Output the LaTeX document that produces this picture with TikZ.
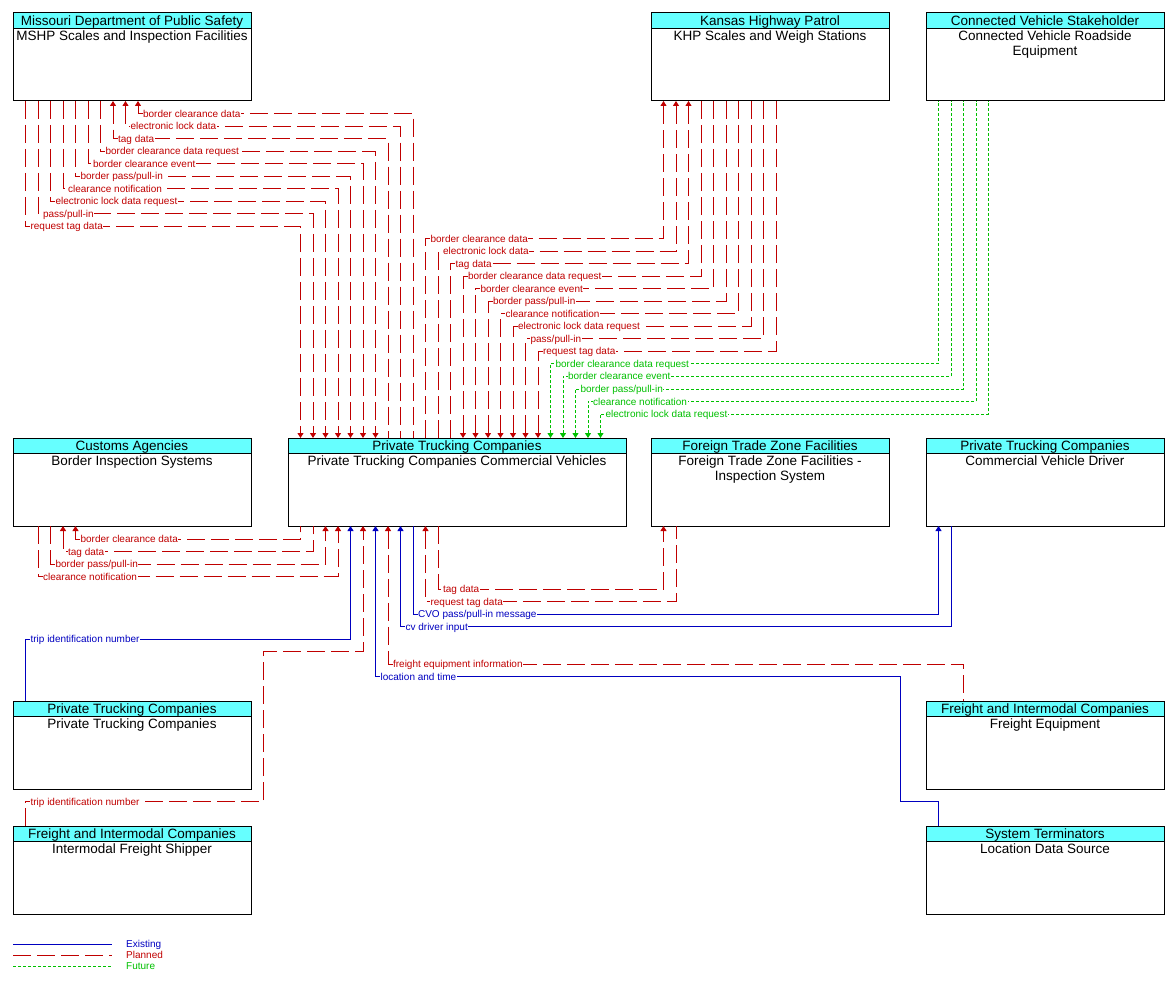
\documentclass[tikz,border=0pt]{standalone}
\usepackage{fontspec}
\setmainfont{Liberation Sans}
\usetikzlibrary{arrows.meta}
\definecolor{cred}{RGB}{192,0,0}
\definecolor{cblue}{RGB}{0,0,192}
\definecolor{cgreen}{RGB}{0,192,0}
\definecolor{hdr}{RGB}{102,255,255}
\newcommand\bxf{\fontsize{13.5}{15}\selectfont}
\newcommand\lbf{\fontsize{10}{11}\selectfont}
\newcommand\archbox[6]{%
  \node[box, minimum width=#4] (#1) at (#2,#3) {};
  \path[draw=black, line width=1pt, fill=hdr] (#1.north west) rectangle ([yshift=-15.5pt]#1.north east);
  \node[hdrtext] at ([yshift=-12.5pt]#1.north) {#5};
  \node[bodytext] at ([yshift=-18pt]#1.north) {#6};
}
\begin{document}
\begin{tikzpicture}[x=1pt,y=-1pt,
  >={Triangle[width=6pt,length=5pt]},
  box/.style={draw=black, line width=1pt, fill=white, inner sep=0pt, outer sep=0pt, anchor=north west, minimum height=88},
  hdrtext/.style={anchor=base, font=\bxf, inner sep=0pt},
  bodytext/.style={anchor=north, font=\bxf, inner sep=0pt, align=center},
  ex/.style={draw=cblue, line width=1pt},
  pl/.style={draw=cred, line width=1pt, dash pattern=on 18pt off 6pt},
  fu/.style={draw=cgreen, line width=1pt, dash pattern=on 3pt off 2pt},
  lab/.style={font=\lbf, fill=white, inner sep=0.6pt, anchor=base west, xshift=4pt, yshift=-3.5pt, pos=0.5},
  labr/.style={lab, text=cred},
  labb/.style={lab, text=cblue},
  labg/.style={lab, text=cgreen},
  leg/.style={font=\lbf, inner sep=0pt, anchor=base west, yshift=-3.5pt}
]
\useasboundingbox (0,0) rectangle (1173,984);

% boxes
\archbox{mshp}{13}{13}{238}{Missouri Department of Public Safety}{MSHP Scales and Inspection Facilities}
\archbox{khp}{651}{13}{238}{Kansas Highway Patrol}{KHP Scales and Weigh Stations}
\archbox{cvs}{926}{13}{238}{Connected Vehicle Stakeholder}{Connected Vehicle Roadside\\Equipment}
\archbox{cus}{13}{438}{238}{Customs Agencies}{Border Inspection Systems}
\archbox{ptccv}{288}{438}{338}{Private Trucking Companies}{Private Trucking Companies Commercial Vehicles}
\archbox{ftz}{651}{438}{238}{Foreign Trade Zone Facilities}{Foreign Trade Zone Facilities -\\Inspection System}
\archbox{drv}{926}{438}{238}{Private Trucking Companies}{Commercial Vehicle Driver}
\archbox{ptc}{13}{701}{238}{Private Trucking Companies}{Private Trucking Companies}
\archbox{fe}{926}{701}{238}{Freight and Intermodal Companies}{Freight Equipment}
\archbox{ifs}{13}{826}{238}{Freight and Intermodal Companies}{Intermodal Freight Shipper}
\archbox{lds}{926}{826}{238}{System Terminators}{Location Data Source}

% MSHP <-> PTC CV
\draw[pl,<-] ([xshift=125]mshp.south west) |- node[labr]{border clearance data} (413,114) -- ([xshift=125]ptccv.north west);
\draw[pl,<-] ([xshift=112.5]mshp.south west) |- node[labr]{electronic lock data} (400.5,126.5) -- ([xshift=112.5]ptccv.north west);
\draw[pl,<-] ([xshift=100]mshp.south west) |- node[labr]{tag data} (388,139) -- ([xshift=100]ptccv.north west);
\draw[pl,->] ([xshift=87.5]mshp.south west) |- node[labr]{border clearance data request} (375.5,151.5) -- ([xshift=87.5]ptccv.north west);
\draw[pl,->] ([xshift=75]mshp.south west) |- node[labr]{border clearance event} (363,164) -- ([xshift=75]ptccv.north west);
\draw[pl,->] ([xshift=62.5]mshp.south west) |- node[labr]{border pass/pull-in} (350.5,176.5) -- ([xshift=62.5]ptccv.north west);
\draw[pl,->] ([xshift=50]mshp.south west) |- node[labr]{clearance notification} (338,189) -- ([xshift=50]ptccv.north west);
\draw[pl,->] ([xshift=37.5]mshp.south west) |- node[labr]{electronic lock data request} (325.5,201.5) -- ([xshift=37.5]ptccv.north west);
\draw[pl,->] ([xshift=25]mshp.south west) |- node[labr]{pass/pull-in} (313,214) -- ([xshift=25]ptccv.north west);
\draw[pl,->] ([xshift=12.5]mshp.south west) |- node[labr]{request tag data} (300.5,226.5) -- ([xshift=12.5]ptccv.north west);

% PTC CV <-> KHP
\draw[pl,->] ([xshift=137.5]ptccv.north west) |- node[labr]{border clearance data} (663.5,239) -- ([xshift=12.5]khp.south west);
\draw[pl,->] ([xshift=150]ptccv.north west) |- node[labr]{electronic lock data} (676,251.5) -- ([xshift=25]khp.south west);
\draw[pl,->] ([xshift=162.5]ptccv.north west) |- node[labr]{tag data} (688.5,264) -- ([xshift=37.5]khp.south west);
\draw[pl,<-] ([xshift=175]ptccv.north west) |- node[labr]{border clearance data request} (701,276.5) -- ([xshift=50]khp.south west);
\draw[pl,<-] ([xshift=187.5]ptccv.north west) |- node[labr]{border clearance event} (713.5,289) -- ([xshift=62.5]khp.south west);
\draw[pl,<-] ([xshift=200]ptccv.north west) |- node[labr]{border pass/pull-in} (726,301.5) -- ([xshift=75]khp.south west);
\draw[pl,<-] ([xshift=212.5]ptccv.north west) |- node[labr]{clearance notification} (738.5,314) -- ([xshift=87.5]khp.south west);
\draw[pl,<-] ([xshift=225]ptccv.north west) |- node[labr]{electronic lock data request} (751,326.5) -- ([xshift=100]khp.south west);
\draw[pl,<-] ([xshift=237.5]ptccv.north west) |- node[labr]{pass/pull-in} (763.5,339) -- ([xshift=112.5]khp.south west);
\draw[pl,<-] ([xshift=250]ptccv.north west) |- node[labr]{request tag data} (776,351.5) -- ([xshift=125]khp.south west);

% PTC CV <- CV roadside
\draw[fu,<-] ([xshift=262.5]ptccv.north west) |- node[labg]{border clearance data request} (938.5,364) -- ([xshift=12.5]cvs.south west);
\draw[fu,<-] ([xshift=275]ptccv.north west) |- node[labg]{border clearance event} (951,376.5) -- ([xshift=25]cvs.south west);
\draw[fu,<-] ([xshift=287.5]ptccv.north west) |- node[labg]{border pass/pull-in} (963.5,389) -- ([xshift=37.5]cvs.south west);
\draw[fu,<-] ([xshift=300]ptccv.north west) |- node[labg]{clearance notification} (976,401.5) -- ([xshift=50]cvs.south west);
\draw[fu,<-] ([xshift=312.5]ptccv.north west) |- node[labg]{electronic lock data request} (988.5,414) -- ([xshift=62.5]cvs.south west);

% Customs <-> PTC CV
\draw[pl,<-] ([xshift=62.5]cus.south west) |- node[labr]{border clearance data} (300.5,539) -- ([xshift=12.5]ptccv.south west);
\draw[pl,<-] ([xshift=50]cus.south west) |- node[labr]{tag data} (313,551.5) -- ([xshift=25]ptccv.south west);
\draw[pl,->] ([xshift=37.5]cus.south west) |- node[labr]{border pass/pull-in} (325.5,564) -- ([xshift=37.5]ptccv.south west);
\draw[pl,->] ([xshift=25]cus.south west) |- node[labr]{clearance notification} (338,576.5) -- ([xshift=50]ptccv.south west);

% PTC CV <-> FTZ, driver, freight equipment, location
\draw[pl,->] ([xshift=150]ptccv.south west) |- node[labr]{tag data} (663.5,589) -- ([xshift=12.5]ftz.south west);
\draw[pl,<-] ([xshift=137.5]ptccv.south west) |- node[labr]{request tag data} (676,601.5) -- ([xshift=25]ftz.south west);
\draw[ex,->] ([xshift=125]ptccv.south west) |- node[labb]{CVO pass/pull-in message} (938.5,614) -- ([xshift=12.5]drv.south west);
\draw[ex,<-] ([xshift=112.5]ptccv.south west) |- node[labb]{cv driver input} (951,626.5) -- ([xshift=25]drv.south west);
\draw[pl,<-] ([xshift=100]ptccv.south west) |- node[labr]{freight equipment information} (963.5,664) -- ([xshift=37.5]fe.north west);
\draw[ex,<-] ([xshift=87.5]ptccv.south west) |- node[labb]{location and time} (900,676.5) |- (938.5,801) -- ([xshift=12.5]lds.north west);

% trip identification numbers
\draw[ex,->] ([xshift=12.5]ptc.north west) |- node[labb]{trip identification number} (350.5,639) -- ([xshift=62.5]ptccv.south west);
\draw[pl,->] ([xshift=12.5]ifs.north west) |- node[labr]{trip identification number} (263.5,801.5) |- (363,651.5) -- ([xshift=75]ptccv.south west);

% legend
\draw[ex] (13,944) -- (112,944);
\draw[pl] (13,955) -- (112,955);
\draw[fu] (13,966) -- (112,966);
\node[leg, text=cblue] (legex) at (126,944) {Existing};
\node[leg, text=cred] (legpl) at (126,955) {Planned};
\node[leg, text=cgreen] (legfu) at (126,966) {Future};
\end{tikzpicture}
\end{document}
